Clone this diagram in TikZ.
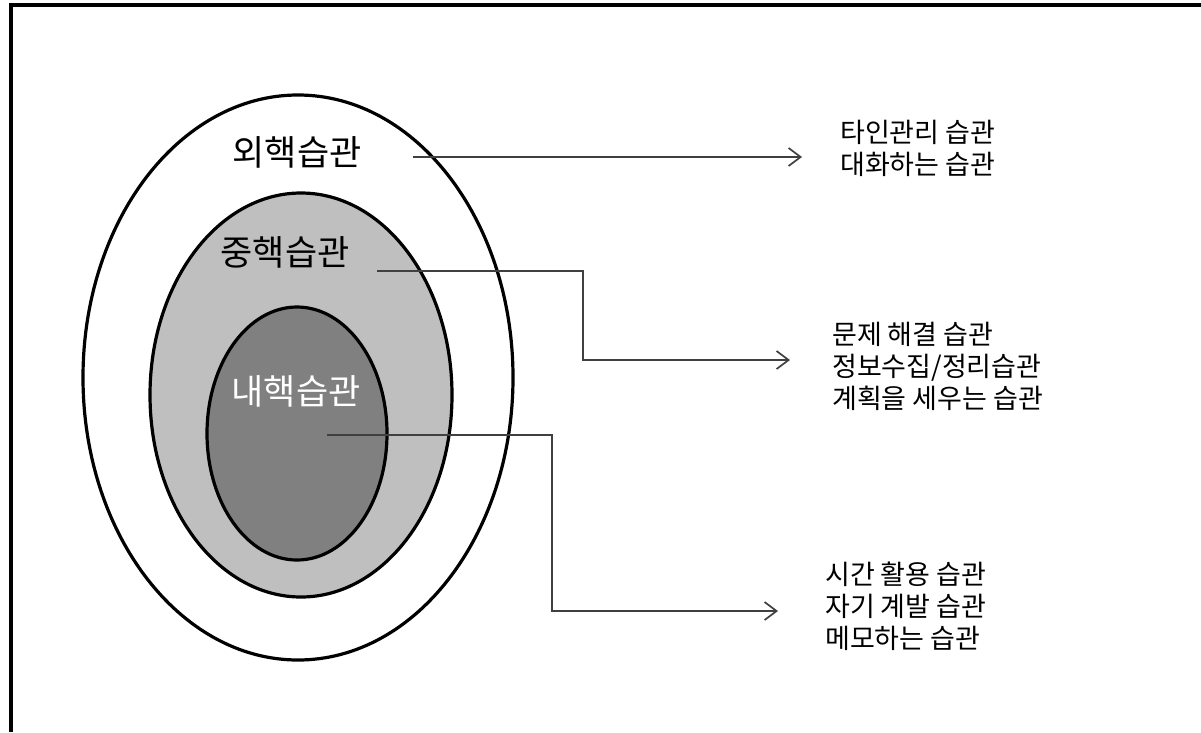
\documentclass[tikz,border=0pt]{standalone}
\usepackage{fontspec}
\newfontfamily\kfont{Noto Sans CJK KR}
\usetikzlibrary{arrows.meta, calc}

\begin{document}
\begin{tikzpicture}[x=1pt, y=-1pt,
	layer/.style={draw=black, line width=3.2pt},
	core/.style={font=\kfont\fontsize{35}{40}\selectfont, inner sep=0pt},
	habit/.style={font=\kfont\fontsize{27}{32}\selectfont, align=left, anchor=west, inner sep=0pt},
	link/.style={draw=black!75, line width=1.7pt, -{Straight Barb[length=12pt,width=18pt]}}]
	\useasboundingbox (0,0) rectangle (1201,732);
	\draw [line width=3.5pt] (1201,5) -- (11,5) -- (11,732);

	% three layers
	\draw [layer, fill=white] (298,377.5) ellipse [x radius=215, y radius=282.5];
	\draw [layer, fill=black!25] (301,395) ellipse [x radius=151, y radius=202];
	\draw [layer, fill=black!50] (297,433.5) ellipse [x radius=90, y radius=126.5];

	\node [core] (outer) at (297,152) {외핵습관};
	\node [core] (middle) at (285,252) {중핵습관};
	\node [core, white] (inner) at (296,391) {내핵습관};

	\node [habit] (habitA) at (840,148) {타인관리 습관\\대화하는 습관};
	\node [habit] (habitB) at (832,366) {문제 해결 습관\\정보수집/정리습관\\계획을 세우는 습관};
	\node [habit] (habitC) at (825,606) {시간 활용 습관\\자기 계발 습관\\메모하는 습관};

	\coordinate (outerS) at (413,157);
	\coordinate (middleS) at (377,271);
	\coordinate (innerS) at (327,435);
	\coordinate (middleE) at (790,360);
	\coordinate (innerE) at (778,611);

	\draw [link, shorten >=38pt] (outerS) -- (outerS -| habitA.west);
	\draw [link] (middleS) -- (583,271) |- (middleE);
	\draw [link] (innerS) -- (552,435) |- (innerE);
%	\draw [link] (inner) -- (habitC);

\end{tikzpicture}
\end{document}
